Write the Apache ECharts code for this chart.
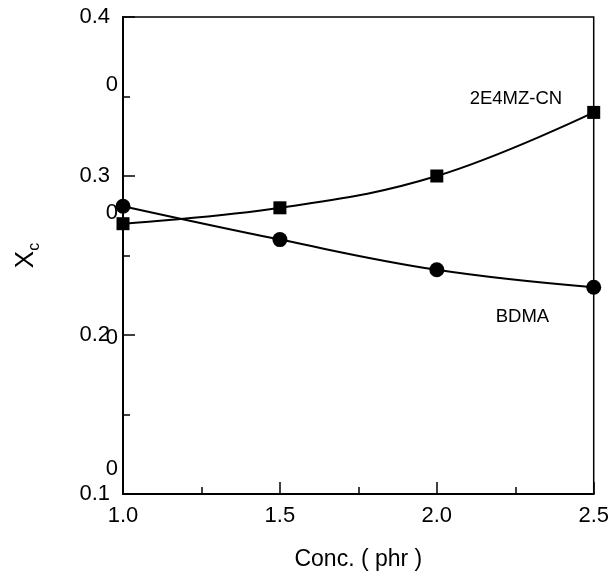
<!DOCTYPE html>
<html>
<head>
<meta charset="utf-8">
<title>Xc vs concentration</title>
<script src="https://cdn.jsdelivr.net/npm/echarts@6/dist/echarts.min.js"></script>
<style>
  html, body { margin: 0; padding: 0; background: #fff; }
  #chart { width: 612px; height: 579px; }
</style>
</head>
<body>
<div id="chart"></div>
<script>
// Catalyst concentration (phr)
const concentrations = [1.0, 1.5, 2.0, 2.5];
// Xc for each catalyst
const imidazoleXc = [0.270, 0.280, 0.300, 0.340];
const bdmaXc = [0.281, 0.260, 0.241, 0.230];
// Y tick values that carry the extra "0" marks beside the axis
const extraZeroTicks = [0.357, 0.277, 0.198, 0.116];

const seriesNames = ['2E4MZ-CN', 'BDMA'];
const FONT = "'Liberation Sans', Arial, Helvetica, sans-serif";

function pairs(xs, ys) {
  return xs.map((x, i) => [x, ys[i]]);
}

function withEndLabel(points, name, offset) {
  return points.map((p, i) => {
    if (i !== points.length - 1) return p;
    return {
      value: p,
      label: {
        show: true,
        formatter: name,
        position: 'left',
        offset: offset,
        color: '#000',
        fontFamily: FONT,
        fontSize: 18.5
      }
    };
  });
}

const chart = echarts.init(document.getElementById('chart'));

chart.setOption({
  backgroundColor: '#fff',
  animation: false,
  grid: {
    left: 123, right: 16, top: 17, bottom: 85,
    show: true,
    borderColor: '#000',
    borderWidth: 1.5
  },
  xAxis: {
    type: 'value',
    min: 1.0, max: 2.5, interval: 0.5,
    name: 'Conc. ( phr )',
    nameLocation: 'middle',
    nameGap: 54,
    nameTextStyle: { color: '#000', fontFamily: FONT, fontSize: 23 },
    axisLine: { show: true, lineStyle: { color: '#000', width: 2 } },
    axisTick: { show: true, inside: true, length: 12, lineStyle: { color: '#000', width: 1.5 } },
    minorTick: { show: true, splitNumber: 2, length: 7, lineStyle: { color: '#000', width: 1.5 } },
    axisLabel: {
      color: '#000', fontFamily: FONT, fontSize: 22, margin: 11,
      formatter: v => v.toFixed(1)
    },
    splitLine: { show: false }
  },
  yAxis: [
    {
      type: 'value',
      min: 0.1, max: 0.4, interval: 0.1,
      name: '{x|X}{s|c}',
      nameLocation: 'middle',
      nameRotate: 90,
      nameGap: 80,
      nameTextStyle: {
        rich: {
          x: { fontFamily: FONT, fontSize: 26, color: '#000', lineHeight: 34, verticalAlign: 'middle' },
          s: { fontFamily: FONT, fontSize: 16, color: '#000', lineHeight: 34, verticalAlign: 'bottom' }
        }
      },
      axisLine: { show: true, lineStyle: { color: '#000', width: 2 } },
      axisTick: { show: true, inside: true, length: 12, lineStyle: { color: '#000', width: 1.5 } },
      minorTick: { show: true, splitNumber: 2, length: 7, lineStyle: { color: '#000', width: 1.5 } },
      axisLabel: {
        color: '#000', fontFamily: FONT, fontSize: 22, margin: 13,
        formatter: v => v.toFixed(1)
      },
      splitLine: { show: false }
    },
    {
      type: 'value',
      position: 'left',
      min: 0.1, max: 0.4,
      axisLine: { show: false },
      axisTick: { show: false },
      splitLine: { show: false },
      axisLabel: {
        show: true,
        customValues: extraZeroTicks,
        formatter: () => '0',
        color: '#000', fontFamily: FONT, fontSize: 22, margin: 5
      }
    }
  ],
  series: [
    {
      name: seriesNames[0],
      type: 'line',
      smooth: 0.4,
      data: withEndLabel(pairs(concentrations, imidazoleXc), seriesNames[0], [-20, -13]),
      symbol: 'rect',
      symbolSize: 13,
      itemStyle: { color: '#000' },
      lineStyle: { color: '#000', width: 2 }
    },
    {
      name: seriesNames[1],
      type: 'line',
      smooth: 0.4,
      data: withEndLabel(pairs(concentrations, bdmaXc), seriesNames[1], [-32, 30]),
      symbol: 'circle',
      symbolSize: 15,
      itemStyle: { color: '#000' },
      lineStyle: { color: '#000', width: 2 }
    }
  ]
});
</script>
</body>
</html>
